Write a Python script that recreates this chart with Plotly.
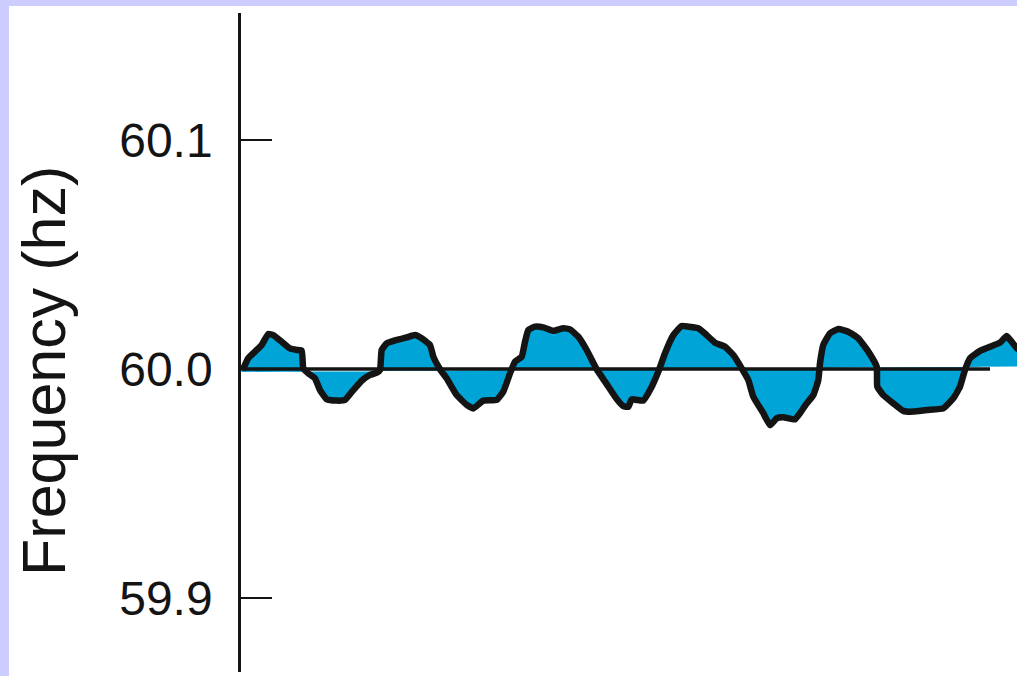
import plotly.graph_objects as go

# time (arbitrary units) and grid frequency (Hz)
t = [1.7, 7.3, 14, 20.7, 27.3, 32.3, 40.7, 49, 55.7, 60.7, 62.3, 67.3, 74, 79, 85.7, 95.7,
     104, 112.3, 120.7, 129, 135.7, 139, 140.7, 145.7, 155.7, 165.7, 174, 180.7, 189, 192.3,
     199, 205.7, 215.7, 225.7, 232.3, 242.3, 255.7, 262.3, 269, 274, 280.7, 284, 287.3, 294,
     302.3, 312.3, 322.3, 329, 337.3, 345.7, 355.7, 365.7, 375.7, 382.3, 387.3, 390.7, 395.7,
     402.3, 409, 417.3, 424, 432.3, 440.7, 447.3, 457.3, 465.7, 474, 484, 492.3, 500.7, 507.3,
     512.3, 522.3, 529, 535.7, 542.3, 554, 559, 565.7, 572.3, 577.3, 579, 582.3, 589, 597.3,
     607.3, 617.3, 627.3, 635.7, 636.3, 642.3, 652.3, 662.3, 672.3, 685.7, 702.3, 712.3, 719,
     724, 729, 739, 749, 759, 765.7, 770.7, 776, 785]
freq = [59.9996, 60.0047, 60.0076, 60.0105, 60.0153, 60.0148, 60.0119, 60.0090, 60.0083, 60.0080,
        60.0003, 59.9981, 59.9959, 59.9908, 59.9868, 59.9862, 59.9865, 59.9908, 59.9949, 59.9974,
        59.9984, 59.9996, 60.0083, 60.0112, 60.0127, 60.0138, 60.0148, 60.0134, 60.0105, 60.0054,
        59.9999, 59.9959, 59.9886, 59.9843, 59.9828, 59.9862, 59.9865, 59.9901, 59.9981, 60.0032,
        60.0054, 60.0119, 60.0170, 60.0185, 60.0182, 60.0167, 60.0178, 60.0173, 60.0141, 60.0083,
        59.9999, 59.9934, 59.9869, 59.9838, 59.9835, 59.9868, 59.9865, 59.9862, 59.9908, 59.9988,
        60.0069, 60.0148, 60.0188, 60.0185, 60.0178, 60.0148, 60.0115, 60.0097, 60.0061, 60.0003,
        59.9952, 59.9879, 59.9807, 59.9755, 59.9785, 59.9789, 59.9780, 59.9807, 59.9850, 59.9886,
        59.9952, 60.0025, 60.0105, 60.0156, 60.0175, 60.0163, 60.0134, 60.0076, 60.0010, 59.9923,
        59.9886, 59.9850, 59.9817, 59.9814, 59.9821, 59.9828, 59.9872, 59.9923, 59.9996, 60.0047,
        60.0079, 60.0097, 60.0115, 60.0144, 60.0119, 60.0090, 60.0075]

# fill reference (slightly tilted in the drawing) and the 60 Hz nominal line
fill_base_t = [0, 776]
fill_base_f = [59.9987, 60.0011]
nominal_t = [0, 749]
nominal_f = [60.0, 60.0]

tick_vals = [59.9, 60.0, 60.1]
tick_text = ["59.9", "60.0", "60.1"]
y_title = "Frequency (hz)"

BLUE = "#00A4D6"
INK = "#141414"
LAVENDER = "#CCCCFF"

fig = go.Figure()
fig.add_trace(go.Scatter(x=fill_base_t, y=fill_base_f, mode="lines",
                         line=dict(width=0, color=BLUE), hoverinfo="skip", showlegend=False))
fig.add_trace(go.Scatter(x=t, y=freq, mode="lines", fill="tonexty", fillcolor=BLUE,
                         line=dict(width=6.5, color=INK, shape="spline", smoothing=0.4),
                         showlegend=False))
fig.add_trace(go.Scatter(x=nominal_t, y=nominal_f, mode="lines",
                         line=dict(width=3.5, color=INK), showlegend=False))

fig.add_shape(type="rect", xref="paper", yref="paper", x0=-0.299, x1=1.05, y0=-0.1, y1=1.0106,
              fillcolor="white", line=dict(width=0), layer="below")

fig.add_annotation(text=y_title, xref="paper", yref="paper", x=-0.2539, y=0.4568,
                   xanchor="center", yanchor="middle", textangle=-90, showarrow=False,
                   font=dict(family="Liberation Sans, Arial, sans-serif", size=61, color=INK))

fig.update_layout(
    width=1017, height=676,
    margin=dict(l=241, r=0, t=13, b=4),
    paper_bgcolor=LAVENDER, plot_bgcolor="white",
    showlegend=False,
    xaxis=dict(visible=False, range=[0, 776]),
    yaxis=dict(range=[59.86769, 60.15546], tickvals=tick_vals, ticktext=tick_text,
               ticks="inside", ticklen=31, tickwidth=2, tickcolor=INK,
               showline=True, linecolor=INK, linewidth=2.5, showgrid=False, zeroline=False,
               ticklabelstandoff=16,
               tickfont=dict(family="Liberation Sans, Arial, sans-serif", size=48, color=INK)),
)

fig.write_html("out.html",
               config={"displayModeBar": False},
               post_script="document.body.style.margin='0';"
                           "document.body.style.overflow='hidden';"
                           "document.body.style.background='" + LAVENDER + "';")
